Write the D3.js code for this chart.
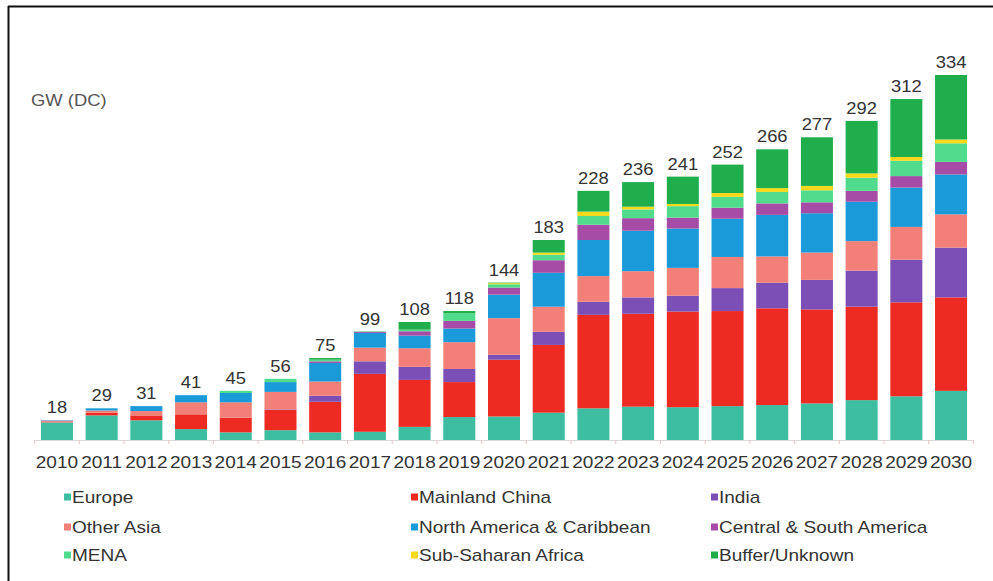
<!DOCTYPE html>
<html><head><meta charset="utf-8">
<script src="https://cdn.jsdelivr.net/npm/d3@7"></script>
<style>
html,body{margin:0;padding:0;background:#fff;}
svg{display:block;font-family:"Liberation Sans",Arial,sans-serif;}
</style></head>
<body>
<svg id="chart" width="993" height="581"></svg>
<script>
const years = ["2010","2011","2012","2013","2014","2015","2016","2017","2018","2019","2020","2021","2022","2023","2024","2025","2026","2027","2028","2029","2030"];
const totals = [18,29,31,41,45,56,75,99,108,118,144,183,228,236,241,252,266,277,292,312,334];
const seriesNames = ["Europe","Mainland China","India","Other Asia","North America & Caribbean","Central & South America","MENA","Sub-Saharan Africa","Buffer/Unknown"];
const europe       = [16,22.5,18,10,7,9,7,7.5,12,21,21.5,25,29,30.5,30,31,32,33.5,36.5,40,45];
const china        = [0.3,2.5,4.5,13.5,13.5,18.5,28,53,43,32,52,62,85.5,85,87.5,87,88.5,86,85.5,86,85.5];
const india        = [0,0,0,0,0,0.5,5.5,11.5,12,12,4.5,12,12,15,14.5,21,23.5,27,33,39,45.5];
const otherAsia    = [1,2,4,11,14,16,13,12.5,17,24.5,33.5,23,23.5,24,25.5,28.5,24,25,27,30,30.5];
const northAmerica = [0.5,2,4.5,6.5,8.5,9,17,13.5,11.5,12.5,21.5,31,33,37,36,35,38,36,36,36,36.5];
const centralSouth = [0.2,0,0,0,0,0,1.5,1,4,7,6.5,11.5,14,11.5,10,10,10.5,10,10,10.5,11.5];
const mena         = [0,0,0,0,2,3,1.5,0.5,1.5,7,3,5,8,8,10.5,10,10.5,11,12,14,17];
const subSaharan   = [0,0,0,0,0,0,0,0,0,0,1,2,4,2.5,2,3.5,3.5,4,4,3.5,3.5];
const buffer       = [0,0,0,0,0,0,1.5,0,7,2,0.5,11.5,19,22.5,25,26,35.5,44.5,48,53,59];
const colors = ["#3dbea0","#ee2b22","#7b4fb5","#f28078","#1a9ad9","#a64ca6","#50dc8c","#f5d91a","#1fae4b"];

const seriesValues = [europe,china,india,otherAsia,northAmerica,centralSouth,mena,subSaharan,buffer];
const table = years.map((y,i)=>{const o={year:y}; seriesNames.forEach((n,j)=>o[n]=seriesValues[j][i]); return o;});

const svg = d3.select("#chart");
// frame
svg.append("line").attr("x1",8).attr("x2",993).attr("y1",6.5).attr("y2",6.5).attr("stroke","#111").attr("stroke-width",2);
svg.append("line").attr("x1",8.5).attr("x2",8.5).attr("y1",6).attr("y2",581).attr("stroke","#111").attr("stroke-width",2);

const x = d3.scaleBand().domain(years).range([34.6,973.4]).paddingInner(0.284).paddingOuter(0.142);
const y = d3.scaleLinear().domain([0,334]).range([440,75]);

const stack = d3.stack().keys(seriesNames)(table);
svg.append("g").selectAll("g").data(stack).join("g")
  .attr("fill",(d,i)=>colors[i])
  .selectAll("rect").data(d=>d).join("rect")
  .attr("x",d=>x(d.data.year)).attr("width",x.bandwidth())
  .attr("y",d=>y(d[1])).attr("height",d=>Math.max(0,y(d[0])-y(d[1])));

// axis
const axis = svg.append("g").attr("transform","translate(0,440)")
  .call(d3.axisBottom(x).tickSize(0).tickPadding(0).tickFormat(""));
axis.select(".domain").attr("stroke","#d9d9d9");
const step = x.step();
axis.selectAll(".sepT").data(d3.range(years.length+1)).join("line").attr("class","sepT")
  .attr("x1",i=>x.range()[0]+i*step).attr("x2",i=>x.range()[0]+i*step)
  .attr("y1",0).attr("y2",4).attr("stroke","#e6c4c4");

// year labels
svg.append("g").selectAll("text").data(years).join("text")
  .attr("transform",d=>`translate(${x(d)+x.bandwidth()/2},468) scale(1.12,1)`)
  .attr("text-anchor","middle").attr("font-size",17).attr("fill","#333").text(d=>d);

// total labels
svg.append("g").selectAll("text").data(years).join("text")
  .attr("transform",(d,i)=>`translate(${x(d)+x.bandwidth()/2},${y(totals[i])-7}) scale(1.08,1)`)
  .attr("text-anchor","middle").attr("font-size",17).attr("fill","#333").text((d,i)=>totals[i]);

// unit label
svg.append("text").attr("transform","translate(31,106) scale(1.15,1)").attr("font-size",16).attr("fill","#555").text("GW (DC)");

// legend
const legX = [[64,72],[411,419],[711,718]];
const legY = [497,527,555];
const leg = svg.append("g").selectAll("g").data(seriesNames).join("g")
  .attr("transform",(d,i)=>`translate(${legX[i%3][0]},${legY[Math.floor(i/3)]})`);
leg.append("rect").attr("x",0).attr("y",-3.5).attr("width",7).attr("height",7).attr("fill",(d,i)=>colors[i]);
leg.append("text").attr("transform","translate(8,6) scale(1.12,1)").attr("font-size",17).attr("fill","#333").text(d=>d);
</script>
</body></html>
